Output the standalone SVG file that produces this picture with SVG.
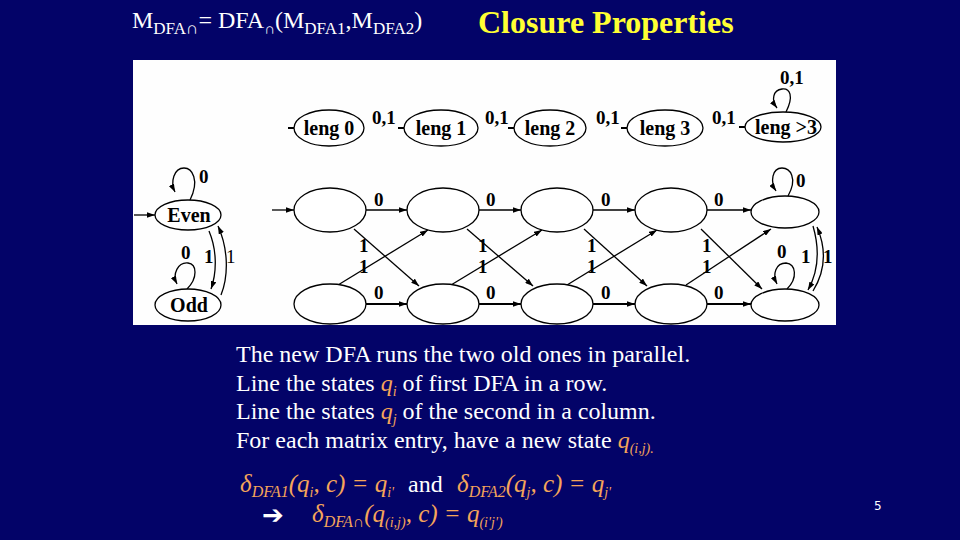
<svg xmlns="http://www.w3.org/2000/svg" width="960" height="540" viewBox="0 0 960 540">
<defs>
<marker id="ah" viewBox="0 0 10 7" refX="10" refY="3.5" markerWidth="8" markerHeight="5.6" markerUnits="userSpaceOnUse" orient="auto"><path d="M0,0 L10,3.5 L0,7 z" fill="#000"/></marker>
<style>
.node{fill:#fff;stroke:#000;stroke-width:1.3}
.edge{fill:none;stroke:#000;stroke-width:1.3;marker-end:url(#ah)}
.thick{stroke-width:2.2}
.stub{stroke:#000;stroke-width:2}
.lbl{font-family:"Liberation Serif","Times New Roman",serif;font-size:19px;font-weight:bold;fill:#000}
.lbln{font-family:"Liberation Serif","Times New Roman",serif;font-size:19px;fill:#000}
.nt{font-family:"Liberation Serif","Times New Roman",serif;font-size:20px;font-weight:bold;fill:#000;text-anchor:middle}
.ttl{font-family:"Liberation Serif","Times New Roman",serif;fill:#fff}
.body{font-family:"Liberation Serif","Times New Roman",serif;font-size:24px;fill:#fff}
.q{fill:#f5a55a;font-style:italic}
.qs{fill:#f5a55a;font-style:italic;font-size:14px}
.f{font-family:"Liberation Serif","Times New Roman",serif;font-size:25px;font-style:italic;fill:#f5a55a}
.fs{font-size:16px}
.fss{font-size:14px}
</style>
</defs>
<rect x="0" y="0" width="960" height="540" fill="#030368"/>
<text class="ttl" x="132" y="28" font-size="24">M<tspan font-size="17" dy="6">DFA∩</tspan><tspan dy="-6">= DFA</tspan><tspan font-size="15" dy="6">∩</tspan><tspan dy="-6">(M</tspan><tspan font-size="17" dy="6">DFA1</tspan><tspan dy="-6">,M</tspan><tspan font-size="17" dy="6">DFA2</tspan><tspan dy="-6">)</tspan></text>
<text x="478" y="33" font-family="'Liberation Serif','Times New Roman',serif" font-size="32" font-weight="bold" fill="#ffff33">Closure Properties</text>
<rect x="133" y="60" width="703" height="265" fill="#fefefe"/>
<g id="connectors">
<line class="stub" x1="288" y1="128" x2="294" y2="128"/>
<line class="stub" x1="398" y1="128" x2="404" y2="128"/>
<line class="stub" x1="508" y1="128" x2="514" y2="128"/>
<line class="stub" x1="621" y1="128" x2="627" y2="128"/>
<line class="stub" x1="739" y1="127" x2="745" y2="127"/>
<path class="edge" d="M786,112 C794,96 790,88 782,89 C773,90 771,100 777,108"/>
<path class="edge" d="M134,215 L155,215"/>
<path class="edge" d="M190,200 C200,180 192,168 184,168 C174,168 170,182 175,192"/>
<path class="edge" d="M209,231 C217,250 217,272 211,289"/>
<path class="edge" d="M221,295 C229,275 228,248 218,226"/>
<path class="edge" d="M187,289 C198,278 197,264 188,263 C178,262 172,274 177,284"/>
<path class="edge" d="M272,210 L294,210"/>
<path class="edge" d="M366,210 L407,210"/>
<path class="edge" d="M479,210 L521,210"/>
<path class="edge" d="M593,210 L635,210"/>
<path class="edge" d="M707,210 L751,210"/>
<path class="edge thick" d="M366,304 L407,304"/>
<path class="edge thick" d="M479,304 L521,304"/>
<path class="edge thick" d="M593,304 L635,304"/>
<path class="edge thick" d="M707,304 L751,304"/>
<path class="edge" d="M354,229 L419,286"/>
<path class="edge" d="M338,285 L428,230"/>
<path class="edge" d="M467,229 L533,286"/>
<path class="edge" d="M451,285 L542,230"/>
<path class="edge" d="M584,229 L647,286"/>
<path class="edge" d="M567,285 L657,230"/>
<path class="edge" d="M701,229 L762,289"/>
<path class="edge" d="M686,285 L771,229"/>
<path class="edge" d="M788,196 C798,178 790,168 782,168 C772,168 770,182 776,191"/>
<path class="edge" d="M787,289 C798,278 796,264 786,263 C776,263 772,274 777,284"/>
<path class="edge" d="M813,226 C820,250 818,272 808,290"/>
<path class="edge" d="M813,291 C826,270 826,248 817,227"/>
<text class="lbl" x="372" y="124">0,1</text>
<text class="lbl" x="485" y="124">0,1</text>
<text class="lbl" x="596" y="124">0,1</text>
<text class="lbl" x="712" y="124">0,1</text>
<text class="lbl" x="780" y="84">0,1</text>
<text class="lbl" x="199" y="183">0</text>
<text class="lbl" x="181" y="259">0</text>
<text class="lbl" x="204" y="263">1</text>
<text class="lbln" x="226" y="263">1</text>
<text class="lbl" x="374" y="206">0</text>
<text class="lbl" x="486" y="206">0</text>
<text class="lbl" x="601" y="206">0</text>
<text class="lbl" x="714" y="206">0</text>
<text class="lbl" x="374" y="299">0</text>
<text class="lbl" x="486" y="299">0</text>
<text class="lbl" x="601" y="299">0</text>
<text class="lbl" x="714" y="299">0</text>
<text class="lbl" x="359" y="252">1</text>
<text class="lbl" x="359" y="273">1</text>
<text class="lbl" x="478" y="252">1</text>
<text class="lbl" x="478" y="273">1</text>
<text class="lbl" x="587" y="252">1</text>
<text class="lbl" x="587" y="273">1</text>
<text class="lbl" x="702" y="252">1</text>
<text class="lbl" x="702" y="273">1</text>
<text class="lbl" x="796" y="187">0</text>
<text class="lbl" x="777" y="258">0</text>
<text class="lbl" x="801" y="263">1</text>
<text class="lbl" x="823" y="263">1</text>
</g>
<g id="leng0"><ellipse class="node" cx="329" cy="128" rx="35" ry="18"/><text class="nt" x="329" y="135">leng 0</text></g>
<g id="leng1"><ellipse class="node" cx="441" cy="128" rx="37" ry="18"/><text class="nt" x="441" y="135">leng 1</text></g>
<g id="leng2"><ellipse class="node" cx="550" cy="128" rx="36" ry="18"/><text class="nt" x="550" y="135">leng 2</text></g>
<g id="leng3"><ellipse class="node" cx="665" cy="128" rx="38" ry="18"/><text class="nt" x="665" y="135">leng 3</text></g>
<g id="lengGt3"><ellipse class="node" cx="783" cy="127" rx="38" ry="15"/><text class="nt" x="786" y="134">leng &gt;3</text></g>
<g id="even"><ellipse class="node" cx="188" cy="215" rx="33" ry="15"/><text class="nt" x="189" y="222">Even</text></g>
<g id="odd"><ellipse class="node" cx="188" cy="305" rx="33" ry="16"/><text class="nt" x="189" y="312">Odd</text></g>
<g id="r1c1"><ellipse class="node" cx="330" cy="210" rx="36" ry="22"/></g>
<g id="r1c2"><ellipse class="node" cx="443" cy="210" rx="36" ry="22"/></g>
<g id="r1c3"><ellipse class="node" cx="557" cy="210" rx="36" ry="22"/></g>
<g id="r1c4"><ellipse class="node" cx="671" cy="210" rx="36" ry="22"/></g>
<g id="r1c5"><ellipse class="node" cx="785" cy="212" rx="34" ry="16"/></g>
<g id="r2c1"><ellipse class="node" cx="330" cy="304" rx="36" ry="20"/></g>
<g id="r2c2"><ellipse class="node" cx="443" cy="304" rx="36" ry="20"/></g>
<g id="r2c3"><ellipse class="node" cx="557" cy="304" rx="36" ry="20"/></g>
<g id="r2c4"><ellipse class="node" cx="671" cy="304" rx="36" ry="20"/></g>
<g id="r2c5"><ellipse class="node" cx="785" cy="305" rx="34" ry="16"/></g>
<text class="body" x="236" y="362">The new DFA runs the two old ones in parallel.</text>
<text class="body" x="236" y="391">Line the states <tspan class="q">q</tspan><tspan class="qs" dy="5">i</tspan><tspan dy="-5"> of first DFA in a row.</tspan></text>
<text class="body" x="236" y="419">Line the states <tspan class="q">q</tspan><tspan class="qs" dy="5">j</tspan><tspan dy="-5"> of the second in a column.</tspan></text>
<text class="body" x="236" y="448">For each matrix entry, have a new state <tspan class="q">q</tspan><tspan class="qs" dy="5">(i,j).</tspan></text>
<text class="f" x="240" y="492">δ<tspan class="fs" dy="5">DFA1</tspan><tspan dy="-5">(q</tspan><tspan class="fss" dy="5">i</tspan><tspan dy="-5">, c) = q</tspan><tspan class="fss" dy="5">i'</tspan></text>
<text x="408" y="492" font-family="'Liberation Serif','Times New Roman',serif" font-size="24" fill="#fff">and</text>
<text class="f" x="457" y="492">δ<tspan class="fs" dy="5">DFA2</tspan><tspan dy="-5">(q</tspan><tspan class="fss" dy="5">j</tspan><tspan dy="-5">, c) = q</tspan><tspan class="fss" dy="5">j'</tspan></text>
<text x="262" y="524" font-family="'DejaVu Sans',sans-serif" font-size="26" font-weight="bold" fill="#fff">➔</text>
<text class="f" x="312" y="522">δ<tspan class="fs" dy="5">DFA∩</tspan><tspan dy="-5">(q</tspan><tspan class="fss" dy="5">(i,j)</tspan><tspan dy="-5">, c) = q</tspan><tspan class="fss" dy="5">(i'j')</tspan></text>
<text x="874" y="510" font-family="'DejaVu Sans',sans-serif" font-size="12" fill="#fff">5</text>
</svg>
